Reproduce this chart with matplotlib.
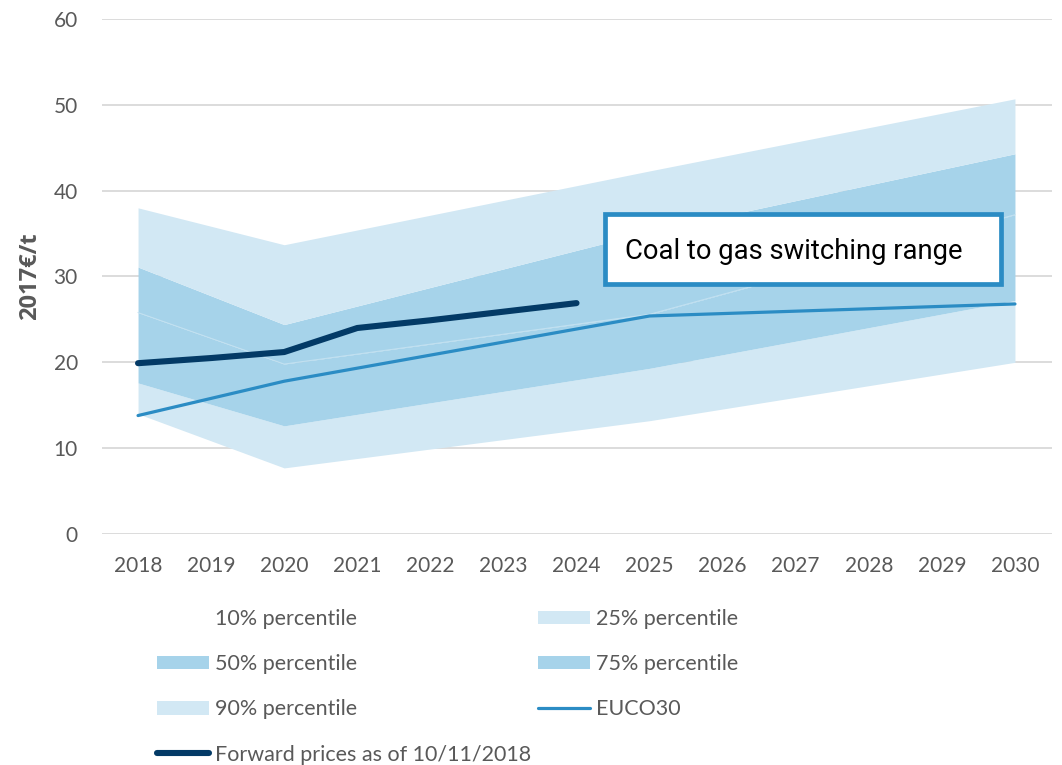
import matplotlib
matplotlib.use('Agg')
import matplotlib.pyplot as plt
from matplotlib.patches import Patch, Rectangle
from matplotlib.lines import Line2D

plt.rcParams['font.family'] = ['Lato', 'DejaVu Sans']

# scenario years (bands and EUCO30 given only at these years)
years = [2018, 2020, 2025, 2030]
p10 = [14.0, 7.7, 13.2, 20.0]
p25 = [17.6, 12.6, 19.3, 27.2]
p50 = [25.8, 19.8, 25.6, 37.2]
p75 = [31.1, 24.4, 35.2, 44.3]
p90 = [38.0, 33.7, 42.3, 50.7]
euco30 = [13.8, 17.8, 25.4, 26.8]

# forward curve
fwd_years = [2018, 2019, 2020, 2021, 2022, 2023, 2024]
fwd_prices = [19.9, 20.5, 21.2, 24.0, 24.9, 25.9, 26.9]

tick_years = list(range(2018, 2031))
yticks = [0, 10, 20, 30, 40, 50, 60]

light = '#d2e8f4'
dark = '#a6d3ea'
euco_col = '#2b8cc4'
fwd_col = '#033a66'
grey = '#595959'

fig = plt.figure(figsize=(10.62, 7.65), dpi=100)
ax = fig.add_axes([101.5 / 1062, 1 - 534 / 765, 950 / 1062, 515 / 765])

ax.fill_between(years, p10, p25, color=light, lw=0)
ax.fill_between(years, p25, p50, color=dark, lw=0)
ax.fill_between(years, p50, p75, color=dark, lw=0)
ax.fill_between(years, p75, p90, color=light, lw=0)
# faint seam between the two dark bands
ax.plot(years, p50, color='#c3e1f1', lw=0.7)

ax.plot(years, euco30, color=euco_col, lw=2.3, solid_capstyle='round')
ax.plot(fwd_years, fwd_prices, color=fwd_col, lw=4.4, solid_capstyle='round')

ax.set_xlim(2017.5, 2030.5)
ax.set_ylim(0, 60)
ax.set_xticks(tick_years)
ax.set_yticks(yticks)
ax.grid(axis='y', color='#d9d9d9', lw=1.3)
ax.set_axisbelow(True)
for s in ax.spines.values():
    s.set_visible(False)
ax.tick_params(length=0, colors=grey, labelsize=15)
ax.tick_params(axis='x', pad=16)
ax.tick_params(axis='y', pad=17)
ax.set_ylabel('2017€/t', fontsize=17, fontweight='bold', color=grey, labelpad=8,
              family=['Open Sans', 'DejaVu Sans'])

# annotation box
ax.add_patch(Rectangle((0.5305, 0.4845), 0.4168, 0.1359, transform=ax.transAxes,
                       facecolor='white', edgecolor=euco_col, lw=3.4, zorder=5))
ax.text(0.551, 0.5476, 'Coal to gas switching range', transform=ax.transAxes,
        fontsize=19.7, family=['Roboto', 'DejaVu Sans'], color='black',
        va='center', ha='left', zorder=6)

# legend, column-wise order
handles = [
    Patch(facecolor='none', edgecolor='none'),
    Patch(facecolor=dark, edgecolor='none'),
    Patch(facecolor=light, edgecolor='none'),
    Line2D([], [], color=fwd_col, lw=4.4, solid_capstyle='round'),
    Patch(facecolor=light, edgecolor='none'),
    Patch(facecolor=dark, edgecolor='none'),
    Line2D([], [], color=euco_col, lw=2.3, solid_capstyle='round'),
]
labels = ['10% percentile', '50% percentile', '90% percentile',
          'Forward prices as of 10/11/2018',
          '25% percentile', '75% percentile', 'EUCO30']
fs = 15.5
leg = fig.legend(handles, labels, ncol=2, loc='upper left',
                 bbox_to_anchor=(157 / 1062, 1 - 609 / 765),
                 frameon=False, fontsize=fs, borderaxespad=0, borderpad=0,
                 handlelength=52 / (fs * 1.389), handletextpad=6 / (fs * 1.389),
                 labelspacing=1.17, columnspacing=7 / (fs * 1.389),
                 handleheight=0.6)
for t in leg.get_texts():
    t.set_color(grey)

fig.savefig('out.png', dpi=100)
